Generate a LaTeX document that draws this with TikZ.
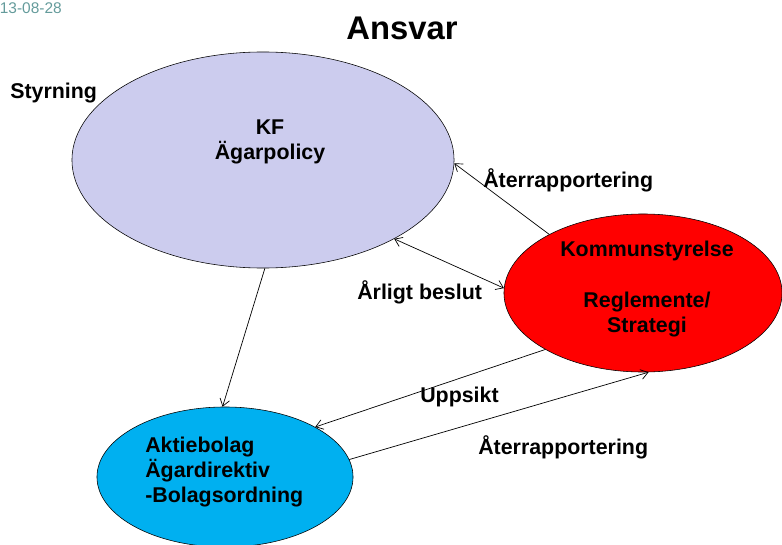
\documentclass[tikz,border=0pt]{standalone}
\usepackage{fontspec}
\setmainfont{Liberation Sans}
\usepackage{xcolor}
\usetikzlibrary{shapes,arrows,positioning,calc,arrows.meta}

\definecolor{kfblue}{RGB}{204,204,238}
\definecolor{ksred}{RGB}{255,0,0}
\definecolor{abblue}{RGB}{0,176,240}
\definecolor{datecol}{RGB}{100,155,155}

\begin{document}
\begin{tikzpicture}[x=0.025cm, y=-0.025cm,
    blob/.style={ellipse, draw, inner sep=0pt},
    lbl/.style={font=\bfseries\fontsize{15.2}{18}\selectfont, inner sep=0pt, align=center},
    pil/.style={-{Straight Barb[length=5pt,width=7pt]}, line width=0.5pt}]
    \useasboundingbox (0,0) rectangle (782,545);

    \node [datecol, anchor=east, inner sep=0pt, font=\fontsize{11}{13}\selectfont] (date) at (62,8) {13-08-28};
    \node [font=\bfseries\fontsize{23.3}{28}\selectfont, inner sep=0pt] (title) at (402,28) {Ansvar};

    \node [blob, fill=kfblue, minimum width=9.55cm, minimum height=5.4cm] (kf) at (263,160) {};
    \node [blob, fill=ksred, minimum width=6.95cm, minimum height=3.95cm] (ks) at (643,293) {};
    \node [blob, fill=abblue, minimum width=6.4cm, minimum height=3.5cm] (ab) at (225,477) {};

    \node [lbl, anchor=west] (styr) at (10,93) {Styrning};
    \node [lbl] (kftxt) at (270,142) {KF\\Ägarpolicy};
    \node [lbl] (kstxt) at (647,289) {Kommunstyrelse\\[\baselineskip]Reglemente/\\Strategi};
    \node [lbl, align=left, anchor=west] (abtxt) at (145,472) {Aktiebolag\\Ägardirektiv\\-Bolagsordning};

    \node [lbl, anchor=west] (rap1) at (483,180) {Återrapportering};
    \node [lbl, anchor=west] (beslut) at (357,292) {Årligt beslut};
    \node [lbl, anchor=west] (upps) at (420,397) {Uppsikt};
    \node [lbl, anchor=west] (rap2) at (478,447) {Återrapportering};

    \draw [pil] (ks.148) -- (kf.-1);
    \draw [pil, {Straight Barb[length=5pt,width=7pt]}-{Straight Barb[length=5pt,width=7pt]}] (kf.-31) -- (ks.178);
    \draw [pil] (kf.-89) -- (ab.92);
    \draw [pil] (ks.210) -- (ab.29);
    \draw [pil] (ab.8) -- (ks.-86);
\end{tikzpicture}
\end{document}
